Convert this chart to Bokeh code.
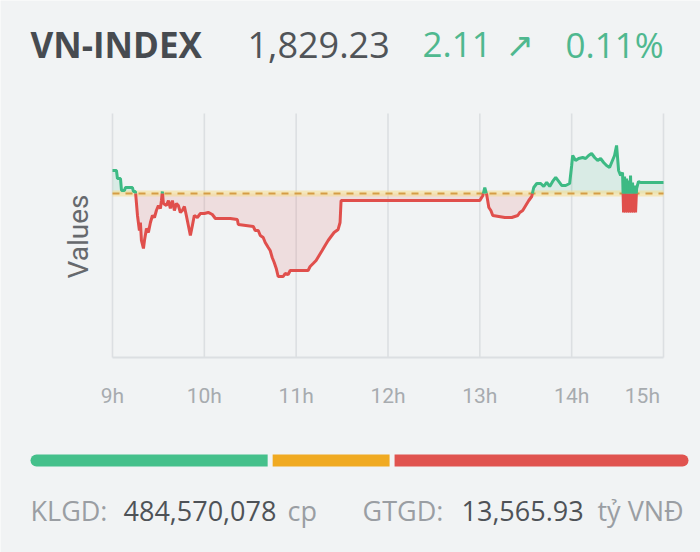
import numpy as np
from bokeh.plotting import figure
from bokeh.models import Range1d, Label
from bokeh.embed import file_html
from bokeh.resources import INLINE
from bokeh.core.properties import value

# ---------------- data ----------------
index_name = "VN-INDEX"
close_text = "1,829.23"
change_text = "2.11"
change_arrow = "↗"
change_pct_text = "0.11%"
ref_value = 1827.12  # previous close (1,829.23 - 2.11)

hour_ticks = [9, 10, 11, 12, 13, 14, 15]
hour_label_pos = [9, 10, 11, 12, 13, 14, 14.77]
hour_labels = ["9h", "10h", "11h", "12h", "13h", "14h", "15h"]

times = [9.000, 9.043, 9.054, 9.087, 9.098, 9.130, 9.141, 9.217, 9.228, 9.250,
         9.272, 9.293, 9.304, 9.315, 9.337, 9.348, 9.370, 9.391, 9.413, 9.435,
         9.457, 9.478, 9.500, 9.522, 9.533, 9.543, 9.554, 9.587, 9.609, 9.630,
         9.652, 9.674, 9.696, 9.717, 9.739, 9.761, 9.783, 9.804, 9.826, 9.848,
         9.870, 9.891, 9.924, 9.957, 10.000, 10.043, 10.087, 10.120, 10.283, 10.359,
         10.370, 10.533, 10.554, 10.587, 10.609, 10.641, 10.663, 10.696, 10.717, 10.739,
         10.761, 10.783, 10.804, 10.859, 10.880, 10.913, 10.935, 11.043, 11.130, 11.152,
         11.185, 11.217, 11.250, 11.283, 11.315, 11.348, 11.380, 11.413, 11.457, 11.478,
         11.489, 11.500, 13.000, 13.033, 13.054, 13.076, 13.098, 13.120, 13.141, 13.272,
         13.348, 13.413, 13.435, 13.467, 13.500, 13.533, 13.565, 13.587, 13.620, 13.663,
         13.696, 13.728, 13.761, 13.793, 13.826, 13.859, 13.891, 13.935, 13.978, 14.000,
         14.011, 14.043, 14.076, 14.120, 14.152, 14.185, 14.217, 14.250, 14.283, 14.315,
         14.348, 14.380, 14.413, 14.435, 14.467, 14.489, 14.511, 14.533, 14.554, 14.565,
         14.576, 14.587, 14.598, 14.609, 14.620, 14.630, 14.641, 14.652, 14.663, 14.674,
         14.685, 14.696, 14.707, 14.728, 14.750, 15.000]

values = [1831.54, 1831.54, 1830.00, 1830.00, 1827.70, 1827.70, 1828.27, 1828.27, 1827.50, 1827.50,
          1822.89, 1820.00, 1821.54, 1818.08, 1816.54, 1818.08, 1820.39, 1819.62, 1821.54, 1822.89,
          1822.50, 1823.85, 1824.81, 1824.24, 1825.77, 1827.50, 1825.20, 1824.81, 1825.77, 1824.24,
          1825.77, 1823.85, 1825.20, 1824.81, 1823.47, 1823.85, 1824.62, 1822.89, 1820.97, 1819.04,
          1820.97, 1822.89, 1822.50, 1823.27, 1823.27, 1823.47, 1823.08, 1822.31, 1822.31, 1822.12,
          1821.16, 1820.77, 1820.00, 1820.00, 1819.04, 1818.66, 1817.70, 1816.74, 1816.16, 1814.81,
          1813.85, 1812.70, 1811.16, 1811.16, 1811.74, 1811.54, 1812.31, 1812.31, 1812.31, 1813.08,
          1813.66, 1814.24, 1815.20, 1816.16, 1817.12, 1818.08, 1818.85, 1819.62, 1820.20, 1821.54,
          1825.77, 1825.77, 1825.77, 1826.74, 1828.27, 1826.74, 1824.43, 1823.85, 1822.89, 1822.50,
          1822.50, 1822.89, 1823.47, 1823.85, 1824.81, 1825.77, 1826.54, 1828.27, 1829.04, 1829.04,
          1828.47, 1829.24, 1828.47, 1829.43, 1830.20, 1829.43, 1828.66, 1828.66, 1829.04, 1832.50,
          1834.43, 1833.47, 1833.85, 1834.04, 1833.85, 1834.43, 1834.81, 1834.04, 1833.47, 1833.85,
          1833.08, 1832.50, 1832.12, 1833.08, 1834.43, 1836.35, 1831.54, 1830.58, 1831.16, 1823.47,
          1830.39, 1823.47, 1830.00, 1823.47, 1829.62, 1823.47, 1830.58, 1823.47, 1829.24, 1823.47,
          1828.66, 1823.47, 1828.08, 1829.43, 1829.23, 1829.23]

y_low, y_high = 1795.58, 1842.50

breadth_names = ["Tăng", "Đứng giá", "Giảm"]
breadth_counts = [145, 73, 176]
breadth_colors = ["#45c08b", "#f0aa22", "#e0534f"]

volume_label, volume_value, volume_unit = "KLGD:", "484,570,078", "cp"
turnover_label, turnover_value, turnover_unit = "GTGD:", "13,565.93", "tỷ VNĐ"

# ---------------- layout constants (pixels) ----------------
W, H = 700, 552
BG = "#f1f3f4"
UP = "#3dba84"
DOWN = "#e04f4c"
FONT = "Open Sans"
chart_l, chart_r, chart_t, chart_b = 112, 663, 113, 357
bar_l, bar_r, bar_y = 30, 688, 460

p = figure(width=W, height=H, x_range=Range1d(0, W), y_range=Range1d(H, 0),
           toolbar_location=None, output_backend="svg", min_border=0,
           x_axis_location=None, y_axis_location=None)
p.background_fill_color = BG
p.border_fill_color = BG
p.outline_line_color = None
p.grid.visible = False

# chart ranges: map hours / index values onto the chart box
hx = (hour_ticks[-1] - hour_ticks[0]) / (chart_r - chart_l)
vy = (y_high - y_low) / (chart_b - chart_t)
p.extra_x_ranges = {
    "time": Range1d(hour_ticks[0] - chart_l * hx, hour_ticks[-1] + (W - chart_r) * hx),
}
p.extra_y_ranges = {
    "idx": Range1d(y_low - (H - chart_b) * vy, y_high + chart_t * vy),
}

# ---------------- header ----------------
hy = 44
p.add_layout(Label(x=30, y=hy, text=index_name, text_font=FONT, text_font_size="35px",
                   text_font_style="bold", text_color="#474b50", text_baseline="middle"))
p.add_layout(Label(x=247, y=hy, text=close_text, text_font=FONT, text_font_size="36px",
                   text_color="#505458", text_baseline="middle"))
p.add_layout(Label(x=422, y=hy, text=change_text, text_font=FONT, text_font_size="35px",
                   text_color="#4fb88f", text_baseline="middle"))
p.add_layout(Label(x=505, y=hy, text=change_arrow, text_font="DejaVu Sans", text_font_size="34px",
                   text_color="#4fb88f", text_baseline="middle"))
p.add_layout(Label(x=565, y=hy, text=change_pct_text, text_font=FONT, text_font_size="35px",
                   text_color="#4fb88f", text_baseline="middle"))

# ---------------- chart ----------------
grid_col = "#dcdfe2"
p.segment(x0=hour_ticks, x1=hour_ticks, y0=[y_low] * len(hour_ticks), y1=[y_high] * len(hour_ticks),
          x_range_name="time", y_range_name="idx", line_color=grid_col, line_width=1.6)
p.segment(x0=[hour_ticks[0]], x1=[hour_ticks[-1]], y0=[y_low], y1=[y_low],
          x_range_name="time", y_range_name="idx", line_color=grid_col, line_width=2)

t = np.array(times, dtype=float)
v = np.array(values, dtype=float)
xs, ys = [t[0]], [v[0]]
for i in range(1, len(t)):
    a, b = v[i - 1] - ref_value, v[i] - ref_value
    if a * b < 0:
        f = a / (a - b)
        xs.append(t[i - 1] + f * (t[i] - t[i - 1]))
        ys.append(ref_value)
    xs.append(t[i])
    ys.append(v[i])
xs = np.array(xs)
ys = np.array(ys)

p.varea(x=xs, y1=np.full_like(ys, ref_value), y2=np.maximum(ys, ref_value),
        x_range_name="time", y_range_name="idx", fill_color=UP, fill_alpha=0.13)
p.varea(x=xs, y1=np.minimum(ys, ref_value), y2=np.full_like(ys, ref_value),
        x_range_name="time", y_range_name="idx", fill_color=DOWN, fill_alpha=0.13)

# reference (previous close) line
p.segment(x0=[hour_ticks[0]], x1=[hour_ticks[-1]], y0=[ref_value], y1=[ref_value],
          x_range_name="time", y_range_name="idx", line_color="#f6dc8c", line_width=6, line_alpha=0.55)
p.segment(x0=[hour_ticks[0]], x1=[hour_ticks[-1]], y0=[ref_value], y1=[ref_value],
          x_range_name="time", y_range_name="idx", line_color="#d59d45", line_width=2, line_dash="7 6")

runs = {"up": ([], []), "down": ([], [])}
cur_sign, cx, cy = None, [], []
for i in range(1, len(xs)):
    mid = (ys[i - 1] + ys[i]) / 2 - ref_value
    s = "up" if mid >= 0 else "down"
    if s != cur_sign:
        if cur_sign is not None:
            runs[cur_sign][0].append(cx)
            runs[cur_sign][1].append(cy)
        cur_sign, cx, cy = s, [xs[i - 1]], [ys[i - 1]]
    cx.append(xs[i])
    cy.append(ys[i])
runs[cur_sign][0].append(cx)
runs[cur_sign][1].append(cy)

p.multi_line(xs=runs["down"][0], ys=runs["down"][1], x_range_name="time", y_range_name="idx",
             line_color=DOWN, line_width=3)
p.multi_line(xs=runs["up"][0], ys=runs["up"][1], x_range_name="time", y_range_name="idx",
             line_color=UP, line_width=3)

# x tick labels
p.text(x=hour_label_pos, y=[395] * len(hour_labels), text=hour_labels, x_range_name="time",
       text_font=value("Roboto"), text_font_size="21px", text_color="#a7abaf",
       text_align="center", text_baseline="middle")
# y axis title
p.text(x=[78], y=[236], text=["Values"], angle=np.pi / 2,
       text_font=value("Roboto"), text_font_size="28px", text_color="#66696d",
       text_align="center", text_baseline="middle")

# ---------------- footer ----------------
total = float(sum(breadth_counts))
per_px = total / (bar_r - bar_l)
p.extra_x_ranges["breadth"] = Range1d(-bar_l * per_px, total + (W - bar_r) * per_px)
gap = 5 * per_px
lefts = np.cumsum([0] + breadth_counts[:-1]).astype(float)
rights = np.cumsum(breadth_counts).astype(float)
radii = [(6, 0, 0, 6), 0, (0, 6, 6, 0)]
for i in range(len(breadth_counts)):
    r = rights[i] - (gap if i < len(breadth_counts) - 1 else 0)
    p.hbar(y=[bar_y], height=12, left=[lefts[i]], right=[r], x_range_name="breadth",
           fill_color=breadth_colors[i], line_color=None, border_radius=radii[i])

fy = 510
gray, dark = "#9a9ea3", "#4e5257"
for x, txt, col in [(30, volume_label, gray), (123, volume_value, dark), (287, volume_unit, gray),
                    (362, turnover_label, gray), (461, turnover_value, dark), (597, turnover_unit, gray)]:
    p.add_layout(Label(x=x, y=fy, text=txt, text_font=FONT, text_font_size="27px",
                       text_color=col, text_baseline="middle"))

html = file_html(p, INLINE)
html = html.replace("<body>", '<body style="background:%s">' % BG, 1)
open("out.html", "w").write(html)
